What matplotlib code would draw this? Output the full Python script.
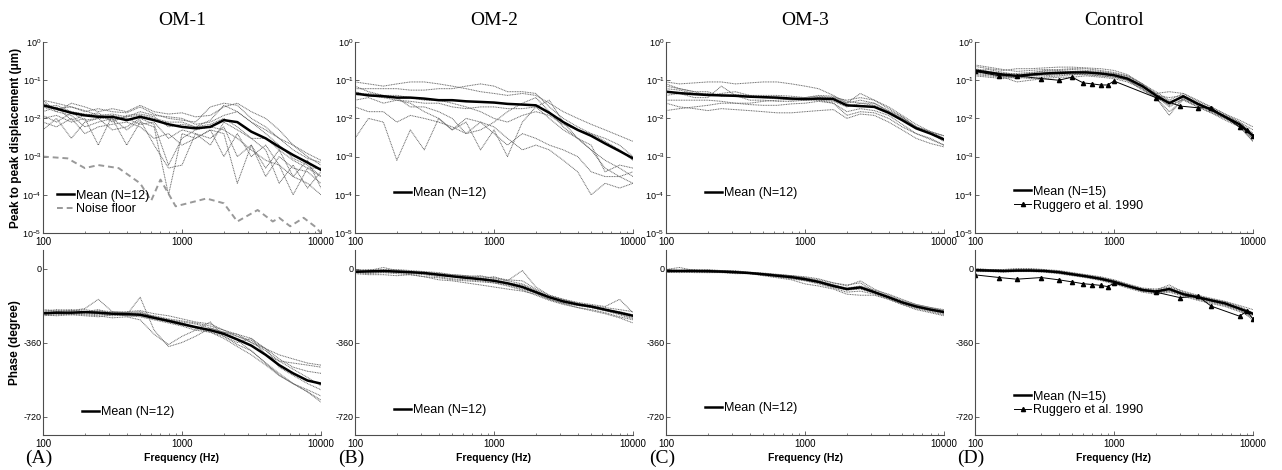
import matplotlib
matplotlib.use("Agg")
import matplotlib.pyplot as plt
from matplotlib.ticker import NullLocator
from matplotlib.lines import Line2D

plt.rcParams['font.family'] = ['Liberation Sans', 'DejaVu Sans']
plt.rcParams['mathtext.default'] = 'regular'

######################################################
# data
freq = [100, 125, 160, 200, 250, 315, 400, 500, 630, 800, 1000,
        1250, 1600, 2000, 2500, 3150, 4000, 5000, 6300, 8000, 10000]

titles = ['OM-1', 'OM-2', 'OM-3', 'Control']
panel_tags = ['(A)', '(B)', '(C)', '(D)']
mean_labels = ['Mean (N=12)', 'Mean (N=12)', 'Mean (N=12)', 'Mean (N=15)']

# ---- OM-1 magnitude (um)
om1_mag_mean = [2.2e-2, 1.8e-2, 1.4e-2, 1.2e-2, 1.1e-2, 1.1e-2, 9e-3, 1.1e-2, 9e-3, 7e-3, 6e-3,
                5.5e-3, 6e-3, 9e-3, 8e-3, 4.5e-3, 3e-3, 1.8e-3, 1.1e-3, 7e-4, 4.5e-4]
om1_mag = [
    [3e-2, 2.5e-2, 2e-2, 1.5e-2, 1.8e-2, 1.5e-2, 1.4e-2, 2e-2, 1.3e-2, 1e-2, 9e-3, 8e-3, 2e-2, 2.5e-2, 2.2e-2, 1e-2, 6e-3, 3e-3, 2e-3, 1e-3, 6e-4],
    [1.5e-2, 2e-2, 9e-3, 1.2e-2, 1.4e-2, 8e-3, 1.2e-2, 1.3e-2, 1.1e-2, 6e-3, 7e-3, 6e-3, 9e-3, 2.2e-2, 1.5e-2, 8e-3, 4e-3, 2e-3, 9e-4, 6e-4, 3e-4],
    [5e-3, 1e-2, 3e-3, 8e-3, 1e-2, 1e-2, 2e-3, 8e-3, 6e-3, 1e-4, 4e-3, 3e-3, 5e-3, 4e-3, 2e-4, 2e-3, 5e-4, 1.5e-3, 3e-4, 8e-4, 1.5e-4],
    [2e-2, 1.5e-2, 1.2e-2, 6e-3, 8e-3, 1e-2, 5e-3, 9e-3, 2e-3, 5e-4, 6e-4, 4e-3, 3e-3, 6e-3, 1e-3, 2e-3, 3e-4, 1e-3, 5e-4, 4e-4, 2e-4],
    [2.5e-2, 1.8e-2, 2e-2, 1.6e-2, 1.2e-2, 1.3e-2, 1.1e-2, 1.5e-2, 1.2e-2, 1.1e-2, 1e-2, 7e-3, 8e-3, 1.2e-2, 1.5e-2, 8e-3, 5e-3, 3e-3, 1.5e-3, 9e-4, 7e-4],
    [8e-3, 6e-3, 1e-2, 4e-3, 6e-3, 7e-3, 8e-3, 6e-3, 3e-3, 4e-3, 2e-3, 3e-3, 5e-3, 1e-3, 4e-3, 1e-3, 2e-3, 6e-4, 1e-4, 5e-4, 3e-4],
    [3e-2, 1.5e-2, 2.5e-2, 2e-2, 1.5e-2, 1.8e-2, 1.5e-2, 2.2e-2, 1.5e-2, 1.3e-2, 1.4e-2, 1.1e-2, 1.2e-2, 2e-2, 2.5e-2, 1.5e-2, 1e-2, 5e-3, 2e-3, 1.2e-3, 8e-4],
    [1e-2, 1.2e-2, 8e-3, 1e-2, 2e-3, 1.2e-2, 1e-2, 7e-3, 8e-3, 3e-3, 5e-3, 4e-3, 2e-3, 8e-3, 5e-3, 3e-3, 1.5e-3, 2e-4, 6e-4, 1.5e-4, 4e-4],
    [2e-2, 2.2e-2, 1.5e-2, 1.3e-2, 1.2e-2, 9e-3, 1.1e-2, 1.2e-2, 1e-2, 8e-3, 8e-3, 6e-3, 7e-3, 1e-2, 6e-3, 3e-3, 3e-3, 1.5e-3, 8e-4, 5e-4, 5e-4],
    [1.2e-2, 8e-3, 1.4e-2, 9e-3, 1e-2, 5e-3, 6e-3, 1e-2, 7e-3, 6e-4, 3e-3, 5e-3, 6e-3, 5e-3, 3e-3, 1.5e-3, 8e-4, 6e-4, 3e-4, 2e-4, 1e-4],
]
noise_freq = [100, 150, 200, 250, 350, 500, 600, 700, 900, 1100, 1500, 2000, 2500, 3500, 4500, 5000, 6000, 7500, 9000, 10000]
noise_floor = [1e-3, 9e-4, 5e-4, 6e-4, 5e-4, 2e-4, 7e-5, 2.5e-4, 5e-5, 6e-5, 8e-5, 6e-5, 2e-5, 4e-5, 2e-5, 2.5e-5, 1.5e-5, 2.5e-5, 1.5e-5, 1e-5]

# ---- OM-2 magnitude
om2_mag_mean = [4.5e-2, 4e-2, 3.8e-2, 3.5e-2, 3.5e-2, 3.3e-2, 3e-2, 3e-2, 2.8e-2, 2.7e-2, 2.6e-2,
                2.4e-2, 2.3e-2, 2.2e-2, 1.4e-2, 8e-3, 5e-3, 3.5e-3, 2.2e-3, 1.4e-3, 9e-4]
om2_mag = [
    [9e-2, 8e-2, 7e-2, 8e-2, 9e-2, 9e-2, 8e-2, 7e-2, 6e-2, 5e-2, 4.5e-2, 4e-2, 4.5e-2, 4e-2, 2.5e-2, 1.5e-2, 1e-2, 7e-3, 5e-3, 3.5e-3, 2.5e-3],
    [6e-2, 6e-2, 6e-2, 6e-2, 5.5e-2, 5.5e-2, 6e-2, 6e-2, 7e-2, 8e-2, 7e-2, 5e-2, 5e-2, 4.5e-2, 2e-2, 1e-2, 6e-3, 4e-3, 2.5e-3, 1.5e-3, 8e-4],
    [3e-2, 3.5e-2, 2.5e-2, 3e-2, 2.8e-2, 2.5e-2, 2.5e-2, 2e-2, 1.8e-2, 2e-2, 2e-2, 1.8e-2, 1.8e-2, 2e-2, 1e-2, 5e-3, 3e-3, 1.5e-3, 8e-4, 5e-4, 3e-4],
    [3e-3, 1e-2, 8e-3, 8e-4, 5e-3, 1.5e-3, 1e-2, 5e-3, 8e-3, 1.5e-3, 5e-3, 1e-3, 8e-3, 2e-2, 3e-2, 8e-3, 3e-3, 2e-3, 4e-4, 6e-4, 5e-4],
    [2e-2, 1.5e-2, 1.5e-2, 8e-3, 1.2e-2, 1e-2, 8e-3, 6e-3, 4e-3, 8e-3, 6e-3, 3e-3, 1.5e-3, 2e-3, 1.5e-3, 8e-4, 4e-4, 1e-4, 2e-4, 1.5e-4, 2e-4],
    [5e-2, 4e-2, 3.5e-2, 3e-2, 2.5e-2, 1.5e-2, 1e-2, 5e-3, 1e-2, 8e-3, 4e-3, 2e-3, 4e-3, 3e-3, 2e-3, 1.5e-3, 1e-3, 4e-4, 3e-4, 3e-4, 4e-4],
    [7e-2, 5e-2, 4e-2, 4e-2, 3.5e-2, 3e-2, 3e-2, 2.5e-2, 2e-2, 1.5e-2, 1e-2, 8e-3, 1.2e-2, 1.5e-2, 1.2e-2, 7e-3, 5e-3, 4e-3, 3e-3, 2e-3, 1e-3],
    [4e-2, 4.5e-2, 4e-2, 3.5e-2, 2e-2, 2e-2, 1.5e-2, 1e-2, 4e-3, 5e-3, 8e-3, 1.5e-2, 2.5e-2, 3.5e-2, 1.5e-2, 6e-3, 3e-3, 1.5e-3, 5e-4, 3e-4, 2e-4],
]

# ---- OM-3 magnitude
om3_mag_mean = [5e-2, 4.6e-2, 4.3e-2, 4.1e-2, 4e-2, 3.9e-2, 3.7e-2, 3.6e-2, 3.5e-2, 3.3e-2, 3.2e-2,
                3.3e-2, 3.2e-2, 2.2e-2, 2.1e-2, 2e-2, 1.4e-2, 9e-3, 5.5e-3, 4e-3, 2.8e-3]
om3_mag = [
    [9e-2, 8e-2, 8.5e-2, 9e-2, 9e-2, 8e-2, 8.5e-2, 9e-2, 9e-2, 8e-2, 7e-2, 6e-2, 4e-2, 2.5e-2, 3e-2, 2.5e-2, 1.5e-2, 1e-2, 6e-3, 4.5e-3, 3.5e-3],
    [1.6e-2, 1.8e-2, 2e-2, 2.2e-2, 2.5e-2, 2.5e-2, 2.3e-2, 2.2e-2, 2.2e-2, 2.4e-2, 2.5e-2, 2.8e-2, 2.5e-2, 1.2e-2, 1.5e-2, 1.4e-2, 1e-2, 6e-3, 4e-3, 3e-3, 2e-3],
    [8e-2, 6e-2, 5e-2, 4e-2, 4.5e-2, 5e-2, 4e-2, 3.5e-2, 3.5e-2, 3e-2, 3.2e-2, 3.5e-2, 3.5e-2, 3e-2, 3.5e-2, 3e-2, 2e-2, 1.2e-2, 7e-3, 4.5e-3, 3e-3],
    [2.5e-2, 2e-2, 1.8e-2, 1.6e-2, 1.8e-2, 1.7e-2, 1.6e-2, 1.5e-2, 1.4e-2, 1.4e-2, 1.5e-2, 1.6e-2, 1.7e-2, 1e-2, 1.3e-2, 1.2e-2, 8e-3, 5e-3, 3e-3, 2.2e-3, 1.8e-3],
    [4e-2, 4.5e-2, 3.5e-2, 3.5e-2, 7e-2, 4e-2, 3e-2, 3e-2, 2.8e-2, 2.8e-2, 3e-2, 3e-2, 2.8e-2, 2e-2, 2.5e-2, 2.2e-2, 1.5e-2, 1e-2, 6e-3, 4e-3, 2.5e-3],
    [6e-2, 5.5e-2, 4.5e-2, 4.5e-2, 4e-2, 4.2e-2, 4e-2, 4e-2, 4e-2, 3.8e-2, 3.5e-2, 3.8e-2, 3.5e-2, 2.5e-2, 4.5e-2, 3e-2, 1.8e-2, 1.1e-2, 6e-3, 4e-3, 3e-3],
    [3e-2, 3e-2, 3e-2, 3e-2, 2.8e-2, 2.5e-2, 2.5e-2, 2.8e-2, 3e-2, 3.2e-2, 3.3e-2, 3e-2, 2.5e-2, 1.5e-2, 1.8e-2, 1.6e-2, 1.2e-2, 7e-3, 4e-3, 2.8e-3, 2e-3],
    [7e-2, 6e-2, 5e-2, 5e-2, 3.8e-2, 4e-2, 3.6e-2, 3.5e-2, 3.3e-2, 3.2e-2, 3.5e-2, 4e-2, 3.8e-2, 2.8e-2, 2.5e-2, 2.5e-2, 1.6e-2, 1.1e-2, 6e-3, 4.5e-3, 3.5e-3],
]

# ---- Control magnitude
ctl_mag_mean = [1.8e-1, 1.6e-1, 1.4e-1, 1.3e-1, 1.4e-1, 1.5e-1, 1.55e-1, 1.6e-1, 1.6e-1, 1.5e-1, 1.35e-1,
                1.1e-1, 7e-2, 4e-2, 2.5e-2, 3.8e-2, 2.4e-2, 1.7e-2, 1.1e-2, 7e-3, 3.5e-3]
ctl_mag = [
    [2.3e-1, 2e-1, 1.8e-1, 2e-1, 2e-1, 2.1e-1, 2.2e-1, 2.2e-1, 2.1e-1, 2e-1, 1.8e-1, 1.4e-1, 8e-2, 5e-2, 3e-2, 4.5e-2, 2.8e-2, 2e-2, 1.3e-2, 8e-3, 5e-3],
    [1.5e-1, 1.4e-1, 1.2e-1, 9e-2, 1e-1, 1.1e-1, 1.2e-1, 1.2e-1, 1.3e-1, 1.2e-1, 1.1e-1, 9e-2, 6e-2, 3.5e-2, 1.5e-2, 3e-2, 2e-2, 1.4e-2, 9e-3, 6e-3, 3e-3],
    [2e-1, 1.7e-1, 1.5e-1, 1.5e-1, 1.6e-1, 1.7e-1, 1.8e-1, 1.9e-1, 1.8e-1, 1.7e-1, 1.5e-1, 1.2e-1, 7e-2, 4.5e-2, 2.8e-2, 3.5e-2, 2.5e-2, 1.8e-2, 1.2e-2, 8e-3, 4e-3],
    [1.3e-1, 1.2e-1, 1.1e-1, 1.2e-1, 1.1e-1, 1.2e-1, 1.3e-1, 1.4e-1, 1.4e-1, 1.3e-1, 1.2e-1, 1e-1, 6.5e-2, 4e-2, 2e-2, 3.2e-2, 2.2e-2, 1.5e-2, 1e-2, 6.5e-3, 2.5e-3],
    [1.8e-1, 1.9e-1, 1.6e-1, 1.4e-1, 1.5e-1, 1.8e-1, 1.7e-1, 1.7e-1, 1.7e-1, 1.6e-1, 1.5e-1, 1.3e-1, 8e-2, 4e-2, 3.5e-2, 4e-2, 2.6e-2, 1.7e-2, 1.1e-2, 7e-3, 4e-3],
    [1.6e-1, 1.5e-1, 1.3e-1, 1.1e-1, 1.3e-1, 1.4e-1, 1.5e-1, 1.5e-1, 1.5e-1, 1.4e-1, 1.3e-1, 1e-1, 6e-2, 3.5e-2, 1.2e-2, 3.5e-2, 2.3e-2, 1.6e-2, 1.1e-2, 7e-3, 3e-3],
    [2.5e-1, 2.2e-1, 1.9e-1, 1.7e-1, 1.8e-1, 1.9e-1, 1.9e-1, 2e-1, 2e-1, 1.8e-1, 1.6e-1, 1.3e-1, 8e-2, 4.5e-2, 5e-2, 4.5e-2, 3e-2, 2e-2, 1.3e-2, 9e-3, 6e-3],
    [1.4e-1, 1.3e-1, 1.2e-1, 1.2e-1, 1.3e-1, 1.3e-1, 1.4e-1, 1.4e-1, 1.4e-1, 1.3e-1, 1.2e-1, 1e-1, 5.5e-2, 3.5e-2, 2.2e-2, 3.2e-2, 2e-2, 1.4e-2, 1e-2, 6e-3, 2.5e-3],
]
rugg_freq = [100, 150, 200, 300, 400, 500, 600, 700, 800, 900, 1000, 2000, 3000, 4000, 5000, 8000, 9000, 10000]
rugg_mag = [1.7e-1, 1.3e-1, 1.3e-1, 1.1e-1, 1e-1, 1.2e-1, 8.5e-2, 8e-2, 7.5e-2, 7.5e-2, 9.5e-2,
            3.5e-2, 2.1e-2, 1.9e-2, 1.9e-2, 6e-3, 5e-3, 3.5e-3]

# ---- phases (degree)
om1_ph_mean = [-218, -215, -215, -212, -215, -220, -222, -225, -240, -255, -270,
               -285, -300, -318, -345, -375, -420, -470, -510, -545, -560]
om1_ph = [
    [-210, -200, -205, -195, -150, -210, -215, -210, -235, -250, -260, -270, -290, -310, -330, -350, -390, -440, -480, -500, -510],
    [-225, -220, -225, -215, -220, -230, -225, -140, -300, -380, -360, -330, -290, -310, -320, -340, -420, -450, -460, -470, -480],
    [-230, -225, -220, -225, -230, -240, -235, -250, -320, -370, -330, -300, -310, -330, -370, -400, -460, -520, -560, -600, -640],
    [-205, -210, -205, -200, -210, -215, -210, -205, -220, -230, -245, -260, -270, -300, -320, -360, -400, -450, -490, -530, -570],
    [-220, -210, -215, -220, -225, -225, -230, -230, -245, -260, -275, -290, -310, -340, -380, -420, -470, -520, -560, -590, -620],
    [-215, -220, -210, -215, -205, -210, -215, -220, -230, -245, -255, -265, -280, -300, -330, -360, -390, -420, -440, -460, -470],
    [-200, -205, -200, -210, -200, -220, -230, -235, -250, -265, -280, -300, -260, -330, -360, -340, -390, -480, -520, -560, -590],
    [-225, -230, -225, -230, -235, -225, -220, -215, -235, -250, -265, -285, -305, -320, -350, -400, -460, -510, -560, -600, -650],
]
om2_ph_mean = [-16, -14, -12, -15, -18, -22, -30, -38, -45, -52, -60,
               -72, -90, -115, -140, -160, -175, -185, -200, -215, -230]
om2_ph = [
    [-5, -10, 5, -10, -15, -20, -25, -30, -35, -40, -45, -55, -60, -100, -130, -150, -170, -180, -190, -200, -210],
    [-20, -25, -20, -25, -30, -40, -45, -55, -60, -65, -70, -80, -100, -120, -150, -170, -180, -190, -205, -220, -240],
    [-15, -10, -5, -5, -10, -15, -20, -30, -35, -50, -40, -60, -10, -90, -130, -150, -165, -175, -185, -150, -215],
    [-25, -30, -30, -35, -30, -40, -55, -60, -70, -80, -90, -100, -110, -125, -150, -170, -190, -205, -220, -240, -265],
    [-10, -15, -20, -10, -15, -25, -35, -40, -50, -45, -55, -70, -80, -110, -135, -155, -170, -185, -200, -210, -225],
    [-20, -20, -15, -20, -25, -30, -40, -50, -55, -60, -70, -85, -105, -130, -155, -175, -190, -200, -215, -235, -250],
    [-10, -5, -10, -15, -20, -25, -30, -35, -40, -35, -50, -60, -75, -105, -140, -165, -175, -190, -205, -225, -245],
]
om3_ph_mean = [-12, -12, -12, -13, -15, -18, -22, -28, -35, -42, -52,
               -65, -85, -100, -92, -115, -140, -165, -185, -200, -212]
om3_ph = [
    [-5, 5, -10, -8, -12, -10, -20, -25, -30, -35, -45, -55, -70, -80, -70, -110, -135, -160, -180, -195, -205],
    [-20, -15, -20, -20, -18, -25, -25, -35, -45, -55, -75, -85, -100, -125, -130, -130, -150, -175, -195, -210, -225],
    [-10, -8, -5, -10, -10, -15, -20, -25, -30, -35, -40, -50, -70, -85, -60, -100, -130, -155, -175, -190, -205],
    [-15, -20, -15, -15, -20, -20, -25, -30, -40, -50, -60, -75, -95, -115, -110, -125, -150, -175, -200, -215, -230],
    [-5, -10, -10, -5, -10, -15, -18, -22, -28, -35, -45, -60, -80, -95, -85, -105, -125, -150, -175, -190, -200],
    [-18, -15, -18, -20, -20, -22, -25, -32, -40, -48, -58, -70, -90, -105, -100, -120, -145, -170, -190, -205, -220],
    [-8, -10, -10, -12, -10, -15, -20, -28, -33, -40, -48, -62, -78, -98, -90, -112, -138, -162, -182, -198, -215],
]
ctl_ph_mean = [-8, -10, -12, -10, -10, -12, -18, -28, -38, -50, -65,
               -85, -105, -112, -100, -125, -140, -155, -170, -195, -220]
ctl_ph = [
    [0, -5, -5, 0, 0, -5, -10, -20, -30, -40, -55, -75, -95, -100, -90, -110, -130, -145, -160, -180, -200],
    [-15, -15, -18, -15, -15, -18, -25, -35, -45, -58, -75, -95, -115, -125, -115, -135, -155, -170, -185, -210, -240],
    [-5, -8, -10, -8, -5, -8, -15, -25, -35, -45, -60, -80, -100, -105, -80, -115, -135, -150, -165, -200, -250],
    [-10, -12, -15, -12, -12, -15, -20, -30, -42, -55, -70, -90, -110, -120, -110, -130, -150, -165, -180, -205, -230],
    [-3, -5, -8, -5, -5, -8, -12, -22, -32, -44, -58, -78, -98, -108, -95, -118, -135, -150, -162, -185, -215],
    [-12, -14, -15, -14, -12, -15, -22, -32, -40, -52, -68, -88, -108, -118, -108, -125, -145, -160, -178, -200, -225],
]
rugg_ph = [-31, -44, -52, -44, -55, -65, -74, -78, -82, -88, -72,
           -115, -142, -134, -183, -232, -208, -245]

mag_means = [om1_mag_mean, om2_mag_mean, om3_mag_mean, ctl_mag_mean]
mag_sets = [om1_mag, om2_mag, om3_mag, ctl_mag]
ph_means = [om1_ph_mean, om2_ph_mean, om3_ph_mean, ctl_ph_mean]
ph_sets = [om1_ph, om2_ph, om3_ph, ctl_ph]

######################################################
W, H = 1282, 470
fig = plt.figure(figsize=(W / 100, H / 100), dpi=100)

lefts = [43, 355, 666, 975]   # pixel positions of the axes
axw = 278
top_box = (42, 233)
bot_box = (250, 435)

indiv = dict(color='0.4', lw=0.7, ls=(0, (1, 0.7)))
mean_st = dict(color='black', lw=1.8)
top_leg_y = [0.16, 0.21, 0.21, 0.18]
bot_leg_y = [0.125, 0.135, 0.145, 0.17]


def make_ax(lx, box):
    ax = fig.add_axes([lx / W, 1 - box[1] / H, axw / W, (box[1] - box[0]) / H])
    ax.set_xscale('log')
    ax.set_xlim(100, 10000)
    ax.spines['top'].set_visible(False)
    ax.spines['right'].set_visible(False)
    ax.spines['left'].set_color('0.3')
    ax.spines['bottom'].set_color('0.3')
    ax.set_xticks([100, 1000, 10000])
    ax.set_xticklabels(['100', '1000', '10000'])
    ax.tick_params(which='major', direction='in', length=3, width=0.6, labelsize=7, pad=3, color='0.3')
    ax.tick_params(which='minor', direction='in', length=1.5, width=0.5, color='0.3')
    return ax


for i in range(4):
    # magnitude
    ax = make_ax(lefts[i], top_box)
    ax.set_yscale('log')
    ax.set_ylim(1e-5, 1)
    ax.set_yticks([1e-5, 1e-4, 1e-3, 1e-2, 1e-1, 1])
    ax.yaxis.set_minor_locator(NullLocator())
    ax.tick_params(axis='y', labelsize=6.5, pad=1)
    for c in mag_sets[i]:
        ax.plot(freq, c, **indiv)
    handles = [Line2D([], [], **mean_st)]
    labels = [mean_labels[i]]
    if i == 0:
        ax.plot(noise_freq, noise_floor, color='0.6', lw=1.4, ls=(0, (3, 2)))
        handles.append(Line2D([], [], color='0.6', lw=1.4, ls=(0, (3, 2))))
        labels.append('Noise floor')
    if i == 3:
        ax.plot(rugg_freq, rugg_mag, color='black', lw=0.7, marker='^', ms=3)
        handles.append(Line2D([], [], color='black', lw=0.7, marker='^', ms=3))
        labels.append('Ruggero et al. 1990')
    ax.plot(freq, mag_means[i], **mean_st)
    ax.legend(handles, labels, loc='center left', bbox_to_anchor=(0.05 if i == 0 else 0.14, top_leg_y[i]),
              frameon=False, fontsize=9, handlelength=1.4, handletextpad=0.1, labelspacing=0.15,
              borderpad=0, borderaxespad=0)
    ax.set_title(titles[i], fontsize=14, family='Liberation Serif', pad=12)
    if i == 0:
        ax.set_ylabel('Peak to peak displacement (\u03bcm)', fontsize=8.5, fontweight='bold', labelpad=0)

    # phase
    ax = make_ax(lefts[i], bot_box)
    ax.set_ylim(-810, 90)
    ax.set_yticks([0, -360, -720])
    ax.set_yticklabels(['0', '-360', '-720'])
    ax.tick_params(axis='y', labelsize=6.5, pad=1)
    for c in ph_sets[i]:
        ax.plot(freq, c, **indiv)
    handles = [Line2D([], [], **mean_st)]
    labels = [mean_labels[i]]
    if i == 3:
        ax.plot(rugg_freq, rugg_ph, color='black', lw=0.7, marker='^', ms=3)
        handles.append(Line2D([], [], color='black', lw=0.7, marker='^', ms=3))
        labels.append('Ruggero et al. 1990')
    ax.plot(freq, ph_means[i], **mean_st)
    ax.legend(handles, labels, loc='center left', bbox_to_anchor=(0.14, bot_leg_y[i]),
              frameon=False, fontsize=9, handlelength=1.4, handletextpad=0.1, labelspacing=0.15,
              borderpad=0, borderaxespad=0)
    ax.set_xlabel('Frequency (Hz)', fontsize=7.5, fontweight='bold', labelpad=3)
    if i == 0:
        ax.set_ylabel('Phase (degree)', fontsize=8.5, fontweight='bold', labelpad=2)
    fig.text((lefts[i] - 4) / W, 1 - 458 / H, panel_tags[i], fontsize=14, family='Liberation Serif',
             ha='center', va='center')

fig.savefig('out.png', dpi=100)
